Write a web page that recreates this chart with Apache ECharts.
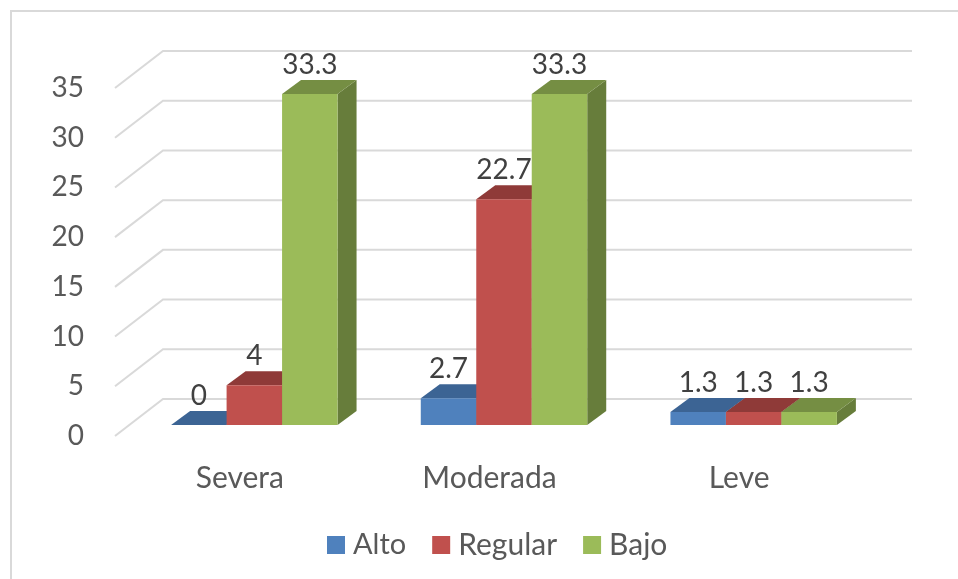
<!DOCTYPE html>
<html>
<head>
<meta charset="utf-8">
<style>html,body{margin:0;padding:0;background:#fff}#c{width:958px;height:579px}</style>
<script src="https://cdn.jsdelivr.net/npm/echarts@6/dist/echarts.min.js"></script>
</head>
<body>
<div id="c"></div>
<script>
var categories = ['Severa', 'Moderada', 'Leve'];
var alto = [0, 2.7, 1.3];
var regular = [4, 22.7, 1.3];
var bajo = [33.3, 33.3, 1.3];
var seriesNames = ['Alto', 'Regular', 'Bajo'];
var yTicks = [0, 5, 10, 15, 20, 25, 30, 35];

var FONT = 'Lato';
var WALL = [48, -37];      // floor depth, front plane to back wall
var BAR_FRONT = [14.5, -11]; // front faces of the bars, from the front plane
var BAR_DEPTH = [19, -14];   // depth of a bar
var BAR_RATIO = 1 / 4.5;
var faces = [
  { front: '#4f81bd', top: '#3c6494', side: '#3a5f8d' },
  { front: '#c0504d', top: '#8f3a38', side: '#883735' },
  { front: '#9bbb59', top: '#758e43', side: '#677d3b' }
];

function wallItem(params, api) {
  var p = api.coord([0, api.value(0)]);
  var x0 = params.coordSys.x, w = params.coordSys.width;
  return {
    type: 'polyline',
    shape: { points: [[x0, p[1]], [x0 + WALL[0], p[1] + WALL[1]], [x0 + WALL[0] + w, p[1] + WALL[1]]] },
    style: { stroke: '#d9d9d9', lineWidth: 2, fill: null },
    silent: true
  };
}

function barRenderer(idx) {
  return function (params, api) {
    var c = api.value(0), v = api.value(1);
    var band = api.size([1, 0])[0];
    var bw = band * BAR_RATIO;
    var cx = api.coord([c, 0])[0] + (idx - 1) * bw;
    var xl = cx - bw / 2 + BAR_FRONT[0], xr = xl + bw;
    var yb = api.coord([c, 0])[1] + BAR_FRONT[1];
    var yt = api.coord([c, v])[1] + BAR_FRONT[1];
    var dx = BAR_DEPTH[0], dy = BAR_DEPTH[1], f = faces[idx];
    return {
      type: 'group',
      children: [
        { type: 'polygon', shape: { points: [[xr, yb], [xr + dx, yb + dy], [xr + dx, yt + dy], [xr, yt]] }, style: { fill: f.side } },
        { type: 'polygon', shape: { points: [[xl, yt], [xl + dx, yt + dy], [xr + dx, yt + dy], [xr, yt]] }, style: { fill: f.top } },
        { type: 'rect', shape: { x: xl, y: yt, width: bw, height: yb - yt }, style: { fill: f.front } },
        { type: 'text', z2: 10, style: {
            text: String(v), x: (xl + xr) / 2, y: yt + dy - 1,
            align: 'center', verticalAlign: 'bottom',
            font: '28px ' + FONT, fill: '#404040'
        } }
      ]
    };
  };
}

function barSeries(name, values, idx) {
  return {
    name: name, type: 'custom', coordinateSystem: 'cartesian2d',
    renderItem: barRenderer(idx),
    itemStyle: { color: faces[idx].front },
    encode: { x: 0, y: 1 },
    clip: false, z: 5 + idx,
    data: values.map(function (v, i) { return [i, v]; })
  };
}

var chart = echarts.init(document.getElementById('c'), null, { renderer: 'canvas' });
chart.setOption({
  animation: false,
  backgroundColor: '#fff',
  textStyle: { fontFamily: FONT },
  graphic: [{
    type: 'polyline', silent: true,
    shape: { points: [[11, 579], [11, 11], [958, 11]] },
    style: { stroke: '#d9d9d9', lineWidth: 2, fill: null }
  }],
  grid: { left: 115, top: 88, width: 749, height: 348, containLabel: false },
  legend: {
    left: 322, top: 525, icon: 'rect', itemWidth: 18, itemHeight: 18, itemGap: 26,
    data: seriesNames.map(function (n, i) {
      return i === 0 ? { name: n, textStyle: { fontSize: 29 } } : { name: n };
    }),
    selectedMode: false,
    textStyle: { fontFamily: FONT, fontSize: 30, color: '#595959', padding: [0, 0, 0, 3] }
  },
  xAxis: {
    type: 'category', data: categories, boundaryGap: true,
    axisLine: { show: false }, axisTick: { show: false },
    axisLabel: { margin: 27, fontFamily: FONT, fontSize: 30, color: '#595959' }
  },
  yAxis: {
    type: 'value', min: 0, max: 35, interval: 5,
    axisLine: { show: false }, axisTick: { show: false }, splitLine: { show: false },
    axisLabel: { margin: 31, fontFamily: FONT, fontSize: 28, color: '#595959', padding: [8, 0, 0, 0] }
  },
  series: [
    { type: 'custom', coordinateSystem: 'cartesian2d', renderItem: wallItem, silent: true, clip: false, z: 1,
      encode: { y: 0 }, data: yTicks.map(function (t) { return [t]; }) },
    barSeries(seriesNames[0], alto, 0),
    barSeries(seriesNames[1], regular, 1),
    barSeries(seriesNames[2], bajo, 2)
  ]
});
</script>
</body>
</html>
